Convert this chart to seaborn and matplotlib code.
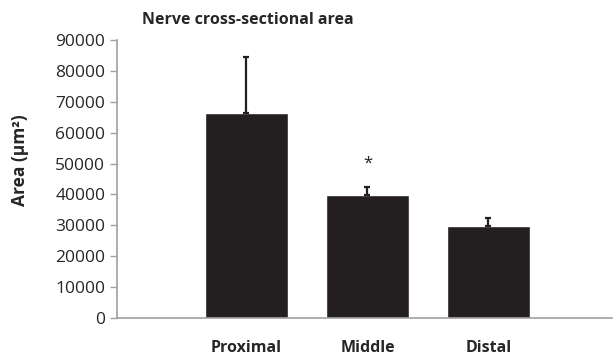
import numpy as np
import matplotlib
matplotlib.use("Agg")
import matplotlib.pyplot as plt
import pandas as pd
import seaborn as sns

# Values
regions = ["Proximal", "Middle", "Distal"]
area = [66300, 39800, 29800]
err_up = [18200, 2600, 2600]
yticks = [0, 10000, 20000, 30000, 40000, 50000, 60000, 70000, 80000, 90000]

sns.set_style("white")
plt.rcParams['font.family'] = ['Open Sans', 'DejaVu Sans']

df = pd.DataFrame({'region': regions, 'area': area})
bar_color = '#231f20'
axis_gray = '#a0a0a0'

fig = plt.figure(figsize=(6.14, 3.59), dpi=100)
ax = fig.add_axes([0.1906, 0.1142, 0.806, 0.7744])

sns.barplot(data=df, x='region', y='area', color=bar_color, width=0.68,
            saturation=1, ax=ax, errorbar=None)
ax.errorbar(np.arange(len(regions)), area, yerr=[[0] * len(regions), err_up],
            fmt='none', ecolor=bar_color, elinewidth=1.6, capsize=2.5, capthick=1.6)

# significance marker above Middle
ax.text(1, area[1] + err_up[1] + 7600, '*', ha='center', va='center',
        fontsize=12, color=bar_color)

ax.set_xlim(-1.07, 3.02)
ax.set_ylim(0, 90000)
ax.set_yticks(yticks)
ax.set_yticklabels([str(v) for v in yticks], fontsize=12.5)
ax.tick_params(axis='y', length=5, width=1, color=axis_gray, direction='out',
               left=True, pad=3.5)
ax.tick_params(axis='x', length=0, pad=16)
for lbl in ax.get_xticklabels():
    lbl.set_fontweight('bold')
    lbl.set_fontsize(11.5)
ax.set_xlabel('')
ax.set_ylabel('')

for side in ['top', 'right']:
    ax.spines[side].set_visible(False)
ax.spines['left'].set_color(axis_gray)
ax.spines['bottom'].set_color(axis_gray)
ax.spines['left'].set_linewidth(1.2)
ax.spines['bottom'].set_linewidth(1.2)

fig.text(20 / 614, 1 - 160 / 359, 'Area (μm²)', fontsize=12.5, fontweight='bold',
         rotation=90, ha='center', va='center')
fig.text(0.231, 0.945, 'Nerve cross-sectional area', fontsize=11.5,
         fontweight='bold', ha='left', va='center')

fig.savefig('out.png', dpi=100)
